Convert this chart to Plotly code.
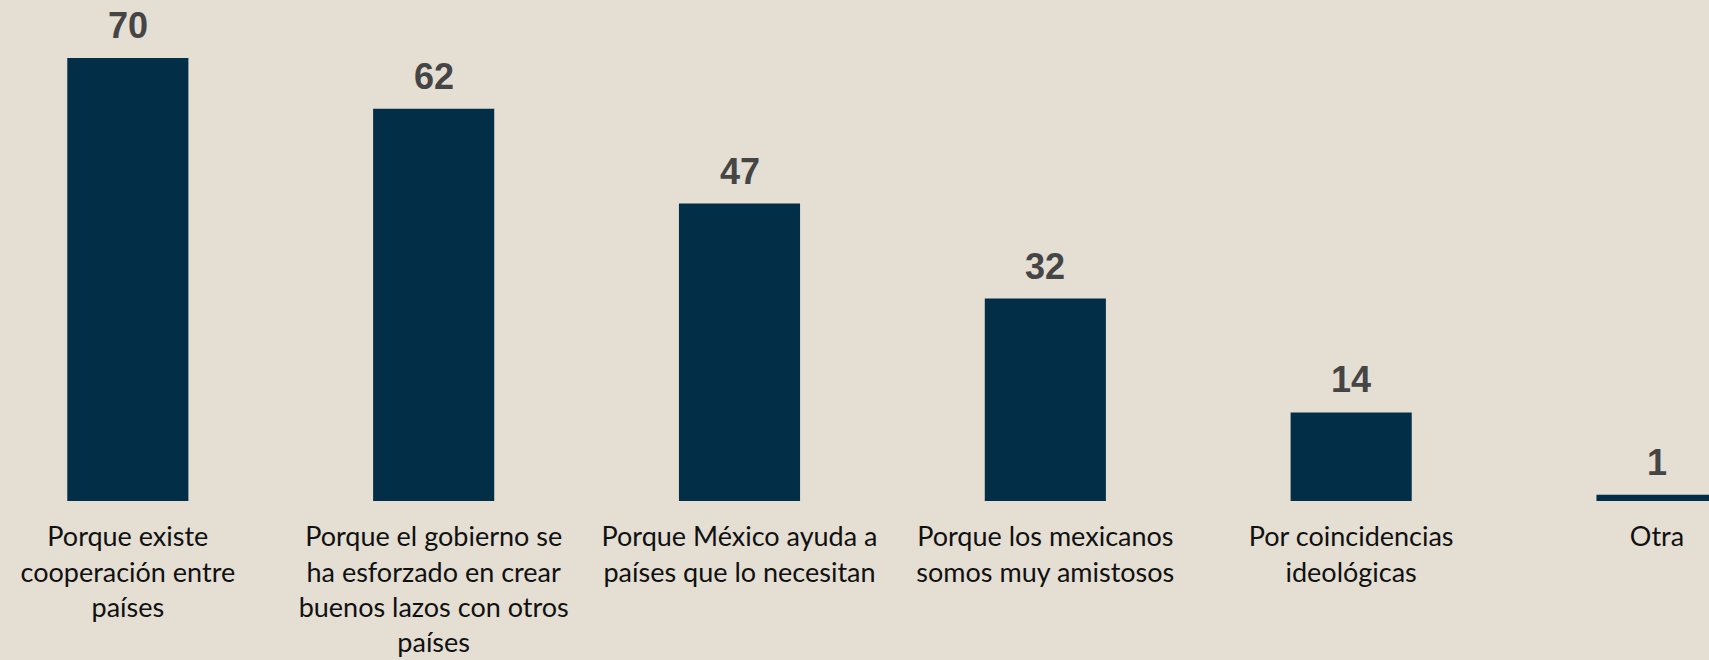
import plotly.graph_objects as go

# survey answers and percentages
categories = [
    "Porque existe<br>cooperación entre<br>países",
    "Porque el gobierno se<br>ha esforzado en crear<br>buenos lazos con otros<br>países",
    "Porque México ayuda a<br>países que lo necesitan",
    "Porque los mexicanos<br>somos muy amistosos",
    "Por coincidencias<br>ideológicas",
    "Otra",
]
values = [70, 62, 47, 32, 14, 1]

bg = "#E4DED3"
bar_color = "#022E47"

x_pos = list(range(len(categories)))

fig = go.Figure(go.Bar(
    x=x_pos,
    y=values,
    width=0.396,
    marker_color=bar_color,
    marker_line_width=0,
))

# value labels above each bar
for xi, v in zip(x_pos, values):
    fig.add_annotation(
        x=xi, y=v, text=f"<b>{v}</b>", showarrow=False,
        yanchor="bottom", yshift=10,
        font=dict(family="Liberation Sans, Arial", size=36, color="#454545"),
    )

fig.update_layout(
    width=1709,
    height=660,
    paper_bgcolor=bg,
    plot_bgcolor=bg,
    margin=dict(l=0, r=0, t=10, b=159),
    showlegend=False,
    xaxis=dict(
        range=[-0.418, 5.17],
        tickmode="array",
        tickvals=x_pos,
        ticktext=categories,
        tickfont=dict(family="Lato", size=27, color="#111111"),
        ticks="outside",
        ticklen=12,
        tickcolor="rgba(0,0,0,0)",
        showgrid=False,
        zeroline=False,
        showline=False,
    ),
    yaxis=dict(
        range=[0, 77.6],
        visible=False,
        showgrid=False,
        zeroline=False,
    ),
)

# page margin off so the chart fills the window
fig.write_html("out.html", config={"displayModeBar": False},
               post_script="document.body.style.margin='0';")
